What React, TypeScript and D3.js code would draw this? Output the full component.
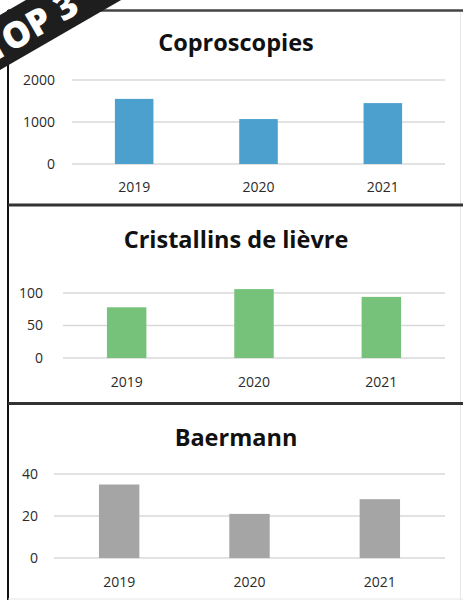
import React from "react";
import * as d3 from "d3";

const years = ["2019", "2020", "2021"];
const coproValues = [1550, 1070, 1450];
const cristValues = [78, 106, 94];
const baerValues = [35, 21, 28];
const coproTicks = [0, 1000, 2000];
const cristTicks = [0, 50, 100];
const baerTicks = [0, 20, 40];
const titles = ["Coproscopies", "Cristallins de lièvre", "Baermann"];
const colors = ["#4BA0CD", "#77C27A", "#A5A5A5"];

const panels = [
  { title: titles[0], values: coproValues, ticks: coproTicks, color: colors[0], x0: 72, x1: 445, yTop: 80, yBot: 164, titleY: 51, yearY: 192, labelX: 55 },
  { title: titles[1], values: cristValues, ticks: cristTicks, color: colors[1], x0: 63, x1: 445, yTop: 293, yBot: 358, titleY: 248, yearY: 387, labelX: 43 },
  { title: titles[2], values: baerValues, ticks: baerTicks, color: colors[2], x0: 54, x1: 445, yTop: 474, yBot: 558, titleY: 446, yearY: 587, labelX: 38 },
];

const FONT = "'Open Sans', Lato, sans-serif";

function Panel({ p }: { p: (typeof panels)[number] }) {
  const x = d3.scaleBand<string>().domain(years).range([p.x0, p.x1]).paddingInner(0.69).paddingOuter(0.345);
  const y = d3.scaleLinear().domain([0, p.ticks[p.ticks.length - 1]]).range([p.yBot, p.yTop]);
  return (
    <g>
      <text x={236} y={p.titleY} textAnchor="middle" fontFamily={FONT} fontWeight={700} fontSize={23.5} fill="#111">
        {p.title}
      </text>
      {p.ticks.map((t) => (
        <g key={t}>
          <line x1={p.x0} x2={p.x1} y1={y(t)} y2={y(t)} stroke="#D9D9D9" strokeWidth={1.3} />
          <text x={p.labelX} y={y(t)} dy="0.35em" textAnchor="end" fontFamily={FONT} fontSize={14} fill="#2a2a2a">
            {t}
          </text>
        </g>
      ))}
      {years.map((yr, i) => (
        <rect key={yr} x={x(yr)} width={x.bandwidth()} y={y(p.values[i])} height={y(0) - y(p.values[i])} fill={p.color} />
      ))}
      {years.map((yr) => (
        <text key={yr} x={(x(yr) as number) + x.bandwidth() / 2} y={p.yearY} textAnchor="middle" fontFamily={FONT} fontSize={14} fill="#2a2a2a">
          {yr}
        </text>
      ))}
    </g>
  );
}

export default function App() {
  return (
    <svg width={463} height={600} style={{ position: "absolute", left: 0, top: 0, background: "#fff" }}>
      <rect x={0} y={0} width={463} height={600} fill="#fff" />
      {panels.map((p) => (
        <Panel key={p.title} p={p} />
      ))}
      {/* frame */}
      <line x1={8} x2={8} y1={10} y2={600} stroke="#111" strokeWidth={2} />
      <line x1={460.5} x2={460.5} y1={10} y2={600} stroke="#E6E6E6" strokeWidth={1} />
      <line x1={8} x2={463} y1={10.5} y2={10.5} stroke="#444" strokeWidth={2.5} />
      <line x1={8} x2={463} y1={205} y2={205} stroke="#333" strokeWidth={3} />
      <line x1={8} x2={463} y1={403.5} y2={403.5} stroke="#333" strokeWidth={3} />
      <line x1={8} x2={463} y1={599} y2={599} stroke="#E6E6E6" strokeWidth={1} />
      {/* banner */}
      <g transform="translate(0,42) rotate(-30)">
        <rect x={-80} y={-23.4} width={260} height={47.6} fill="#1E1E1E" />
        <text x={34} y={1} dominantBaseline="central" textAnchor="middle" fontFamily={FONT} fontWeight={800} fontSize={36} fill="#fff">
          TOP 3
        </text>
      </g>
    </svg>
  );
}
